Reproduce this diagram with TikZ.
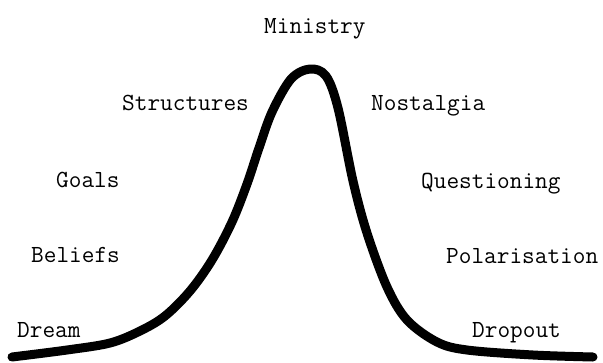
\documentclass[tikz,border=0pt]{standalone}
\usepackage{tikz}
\usetikzlibrary{calc}

\begin{document}
\begin{tikzpicture}[x=1pt,y=-1pt,
    lbl/.style={anchor=base west,inner sep=0pt,font=\fontsize{24.6}{28}\selectfont\ttfamily}]
    \useasboundingbox (0,0) rectangle (603,362);
    % labels, left side going up, right side going down
    \node[lbl] (Dr) at (17,337) {Dream};
    \node[lbl] (Be) at (31,262) {Beliefs};
    \node[lbl] (Go) at (56,187) {Goals};
    \node[lbl] (St) at (122,110) {Structures};
    \node[lbl] (Mi) at (264,33) {Ministry};
    \node[lbl] (No) at (371,110) {Nostalgia};
    \node[lbl] (Qu) at (421,188) {Questioning};
    \node[lbl] (Po) at (446,263) {Polarisation};
    \node[lbl] (Do) at (472,337) {Dropout};
    % the curve
    \draw[line width=9pt,line cap=round,line join=round]
      plot[smooth,tension=0.55] coordinates {
        (12,357) (67,350) (110,343) (140,331) (165,316) (190,291) (212,260)
        (232,222) (247,184) (259,148) (272,112) (291,79) (310,69)
        (326,76) (338,108) (353,181) (367,233) (387,287) (407,320)
        (437,342) (467,350) (533,355) (593,357)};
  \end{tikzpicture}
\end{document}
